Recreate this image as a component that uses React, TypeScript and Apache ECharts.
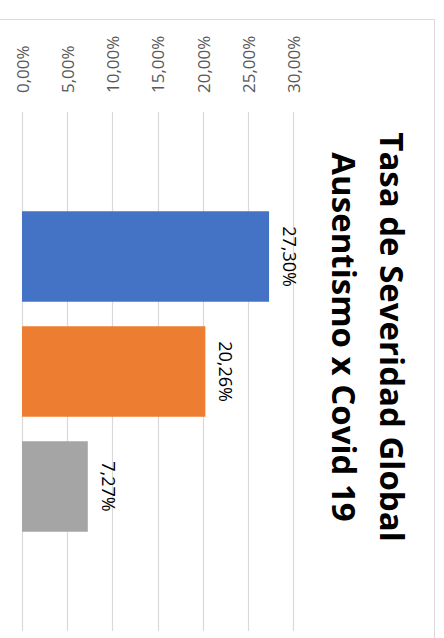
import React, { useEffect, useRef } from "react";
import * as echarts from "echarts";

const categories = ["Total"];
const seriesNames = ["Serie 1", "Serie 2", "Serie 3"];
const seriesValues = [27.3, 20.26, 7.27];
const seriesColors = ["#4472C4", "#ED7D31", "#A5A5A5"];
const tickValues = [0, 5, 10, 15, 20, 25, 30];
const titleLines = ["Tasa de Severidad Global", "Ausentismo x Covid 19"];

const fmt = (v: number) => v.toFixed(2).replace(".", ",") + "%";

export default function App() {
  const ref = useRef<HTMLDivElement>(null);
  useEffect(() => {
    if (!ref.current) return;
    const chart = echarts.init(ref.current, null, { renderer: "svg" });
    chart.setOption({
      animation: false,
      backgroundColor: "#ffffff",
      textStyle: { fontFamily: "Open Sans" },
      graphic: [
        {
          type: "rect",
          shape: { x: -2, y: 19.5, width: 436.5, height: 640 },
          style: { fill: "none", stroke: "#D9D9D9", lineWidth: 1 },
          silent: true,
          z: -1,
        },
        {
          type: "text",
          x: 368,
          y: 337,
          rotation: -Math.PI / 2,
          style: {
            text: titleLines.join("\n"),
            font: "bold 33px 'Open Sans'",
            fill: "#000000",
            align: "center",
            verticalAlign: "middle",
            lineHeight: 48,
          },
        },
      ],
      grid: { left: 22, right: 150.5, top: 112, bottom: 7, containLabel: false },
      xAxis: {
        type: "value",
        position: "top",
        min: tickValues[0],
        max: tickValues[tickValues.length - 1],
        interval: tickValues[1] - tickValues[0],
        axisLine: { show: false },
        axisTick: { show: false },
        splitLine: { show: true, lineStyle: { color: "#D9D9D9", width: 1.2 } },
        axisLabel: {
          rotate: -90,
          margin: 19,
          color: "#595959",
          fontSize: 17,
          fontFamily: "Open Sans",
          formatter: (v: number) => fmt(v),
        },
      },
      yAxis: {
        type: "category",
        data: categories,
        show: false,
      },
      series: seriesValues.map((v, i) => ({
        type: "bar",
        name: seriesNames[i],
        data: [v],
        barWidth: 90.5,
        barGap: "27%",
        itemStyle: { color: seriesColors[i] },
        label: {
          show: true,
          position: "right",
          distance: 12,
          rotate: -90,
          align: "center",
          verticalAlign: "bottom",
          color: "#000000",
          fontSize: 18,
          fontFamily: "Open Sans",
          formatter: (p: any) => fmt(p.value),
        },
      })),
    });
    return () => chart.dispose();
  }, []);
  return (
    <div
      ref={ref}
      style={{ position: "fixed", left: 0, top: 0, width: 444, height: 638 }}
    />
  );
}
